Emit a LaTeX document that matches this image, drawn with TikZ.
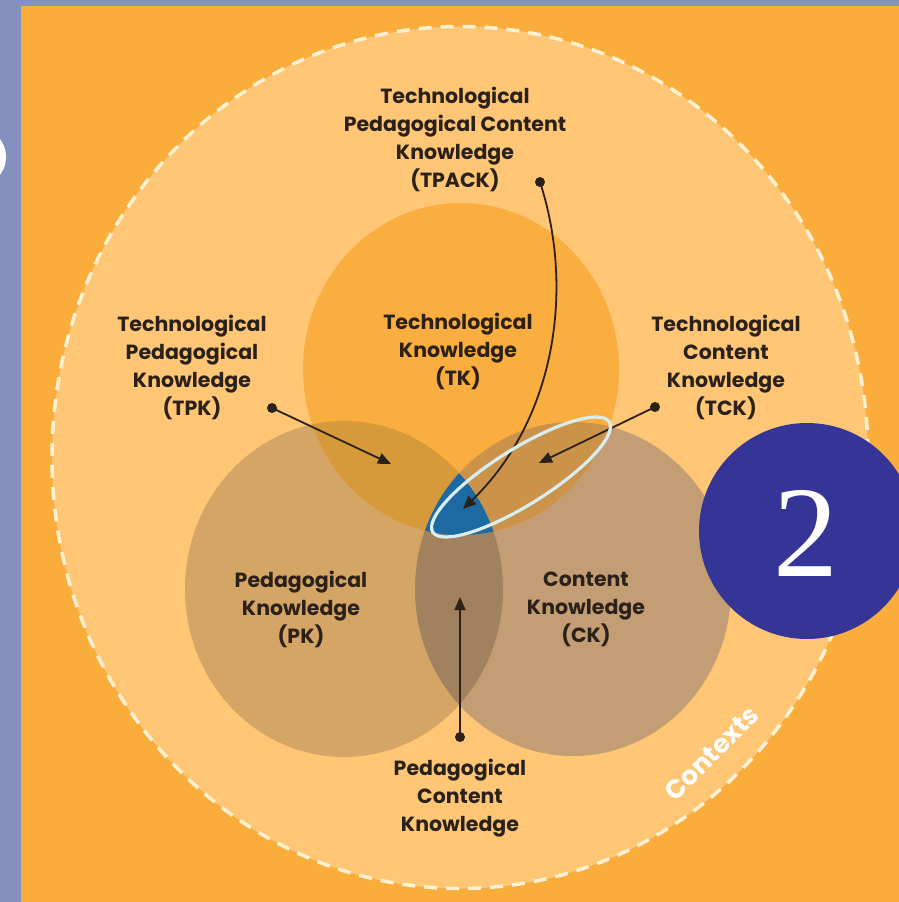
\documentclass[tikz,border=0pt]{standalone}
\usepackage{fontspec}
\setmainfont{Poppins}
\newfontfamily\numfont{Liberation Serif}
\usetikzlibrary{arrows.meta}
\definecolor{bgblue}{HTML}{8491BF}
\definecolor{orng}{HTML}{FBAD3C}
\definecolor{lightor}{HTML}{FEC675}
\definecolor{tkc}{HTML}{FAAE3F}
\definecolor{pkc}{HTML}{D5A566}
\definecolor{ckc}{HTML}{C39E74}
\definecolor{tkpk}{HTML}{D79A3B}
\definecolor{tkck}{HTML}{CB934A}
\definecolor{pkck}{HTML}{A1815E}
\definecolor{ctr}{HTML}{1D69A3}
\definecolor{hil}{HTML}{D7EDF0}
\definecolor{dashc}{HTML}{FFF1D2}
\definecolor{txt}{HTML}{2B2118}
\definecolor{numbg}{HTML}{343596}
\def\TKpath{(461,369) ellipse [x radius=158, y radius=166]}
\def\PKpath{(344,589) ellipse [x radius=159, y radius=168]}
\def\CKpath{(573,589) ellipse [x radius=158, y radius=167]}
\tikzset{
  lbl/.style={font=\bfseries\fontsize{20.5}{28}\selectfont, text=txt, align=center, inner sep=0pt},
  conn/.style={draw=txt, line width=1.8pt, -{Triangle[length=13pt,width=11pt]}},
  dotm/.style={circle, fill=txt, minimum size=10pt, inner sep=0pt}
}
\begin{document}
\begin{tikzpicture}[x=1pt,y=-1pt]
\useasboundingbox (0,0) rectangle (899,902);
\begin{scope}
\clip (0,0) rectangle (899,902);
\fill[bgblue] (0,0) rectangle (899,902);
\fill[orng] (21,6) rectangle (899,902);
\fill[white] (-24,157) circle (30);
\fill[lightor] (460,457.5) ellipse [x radius=408, y radius=431];
\draw[dashc, line width=3.5pt, dash pattern=on 13pt off 9pt] (460,457.5) ellipse [x radius=408, y radius=431];
% circles
\fill[pkc] \PKpath;
\fill[ckc] \CKpath;
\fill[tkc] \TKpath;
\begin{scope}\clip \TKpath; \fill[tkpk] \PKpath; \fill[tkck] \CKpath; \end{scope}
\begin{scope}\clip \PKpath; \fill[pkck] \CKpath; \end{scope}
\begin{scope}\clip \TKpath; \clip \PKpath; \fill[ctr] \CKpath; \end{scope}
% labels
\node[lbl] (tpack) at (455,139) {Technological\\Pedagogical Content\\Knowledge\\(TPACK)};
\node[lbl] (tk) at (458,351) {Technological\\Knowledge\\(TK)};
\node[lbl] (tpk) at (192,367) {Technological\\Pedagogical\\Knowledge\\(TPK)};
\node[lbl] (tck) at (726,367) {Technological\\Content\\Knowledge\\(TCK)};
\node[lbl] (pk) at (301,609) {Pedagogical\\Knowledge\\(PK)};
\node[lbl] (ck) at (586,609) {Content\\Knowledge\\(CK)};
\node[lbl] (pck) at (460,798) {Pedagogical\\Content\\Knowledge};
\node[font=\bfseries\fontsize{26}{26}\selectfont, text=white, rotate=45, inner sep=0pt] (ctx) at (712,753) {Contexts};
% connectors
\node[dotm] (d1) at (540,182) {};
\node[dotm] (d2) at (272,408) {};
\node[dotm] (d3) at (655,407) {};
\node[dotm] (d4) at (460,737) {};
\coordinate (t1) at (463,509);
\coordinate (t2) at (391,464);
\coordinate (t3) at (539,463);
\coordinate (t4) at (460,597);
\draw[conn] (d1.center) .. controls (575,290) and (555,420) .. (t1);
\draw[conn] (d2.center) -- (t2);
\draw[conn] (d3.center) -- (t3);
\draw[conn] (d4.center) -- (t4);
% highlight
\draw[hil, line width=3.2pt, rotate around={32:(521,477)}] (521,477) ellipse [x radius=104, y radius=28];
% number badge
\node[circle, fill=numbg, minimum size=216pt, inner sep=0pt] (badge) at (807,531) {};
\node[text=white, font=\numfont\fontsize{130}{130}\selectfont, inner sep=0pt] (two) at (806,533) {2};
\end{scope}
\end{tikzpicture}
\end{document}
